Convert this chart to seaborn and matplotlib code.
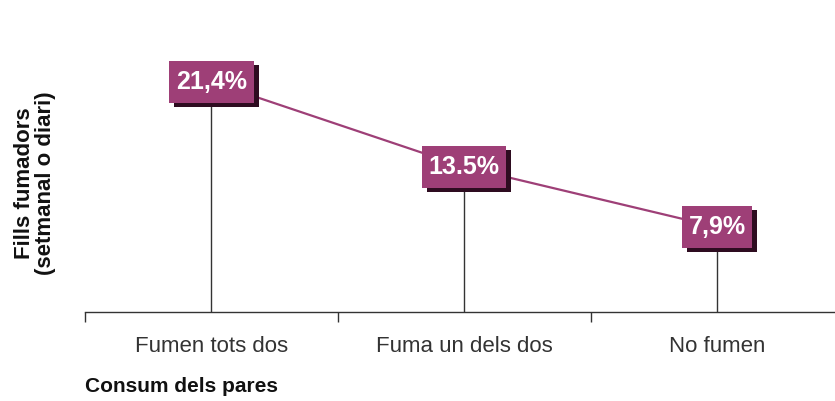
import pandas as pd
import matplotlib
matplotlib.use("Agg")
from matplotlib import pyplot as plt
from matplotlib import transforms
from matplotlib.path import Path
import seaborn as sns

categories = ["Fumen tots dos", "Fuma un dels dos", "No fumen"]
values = [21.4, 13.5, 7.9]
labels = ["21,4%", "13.5%", "7,9%"]

df = pd.DataFrame({"pares": categories, "fills": values})

sns.set_theme(style="white")
plt.rcParams['font.family'] = ['Liberation Sans', 'DejaVu Sans']

PURPLE = '#9e3f77'
SHADOW = '#2e0c20'


def label_box(x0, y0, width, height, mutation_size):
    # square box, a bit more padding top/bottom than left/right
    px = 0.27 * mutation_size
    py = 0.36 * mutation_size
    x0, x1 = x0 - px, x0 + width + px
    y0, y1 = y0 - py, y0 + height + py
    return Path([(x0, y0), (x1, y0), (x1, y1), (x0, y1), (x0, y0)], closed=True)


fig = plt.figure(figsize=(8.35, 4.01), dpi=100)
ax = fig.add_axes([85 / 835, 1 - 312 / 401, 1 - 85 / 835 + 0.01, 312 / 401])

# drop lines from each point to the axis
ax.vlines(range(len(values)), 0, values, color='#333333', linewidth=1)
sns.lineplot(x=range(len(values)), y=values, color=PURPLE, linewidth=1.6, ax=ax)

for i, (v, lab) in enumerate(zip(values, labels)):
    shadow = transforms.offset_copy(ax.transData, fig=fig, x=5, y=-4, units='dots')
    ax.text(i, v, lab, transform=shadow, ha='center', va='center', fontsize=18,
            fontweight='bold', color=SHADOW,
            bbox=dict(boxstyle=label_box, fc=SHADOW, ec='none'), zorder=4)
    ax.text(i, v, lab, ha='center', va='center', fontsize=18, fontweight='bold',
            color='white',
            bbox=dict(boxstyle=label_box, fc=PURPLE, ec='none'), zorder=5)

ax.set_xlim(-0.5, 2.5)
ax.set_ylim(0, 312 / 10.75)
ax.set_yticks([])
for s in ['top', 'right', 'left']:
    ax.spines[s].set_visible(False)
ax.spines['bottom'].set_color('#333333')
ax.spines['bottom'].set_linewidth(1)

ax.set_xticks(range(len(categories)))
ax.set_xticklabels(categories, fontsize=16, color='#333333')
ax.tick_params(axis='x', which='major', length=0, pad=17)
ax.set_xticks([-0.5, 0.5, 1.5], minor=True)
ax.tick_params(axis='x', which='minor', length=7, width=1, color='#333333', direction='out',
               bottom=True)

fig.text(85 / 835, 1 - 386 / 401, "Consum dels pares", ha='left', va='center',
         fontsize=15, fontweight='bold', color='#111111')
fig.text(35 / 835, 1 - 183 / 401, "Fills fumadors\n(setmanal o diari)", rotation=90,
         ha='center', va='center', fontsize=16, fontweight='bold', color='#111111',
         linespacing=0.95)

fig.savefig("out.png", dpi=100)
